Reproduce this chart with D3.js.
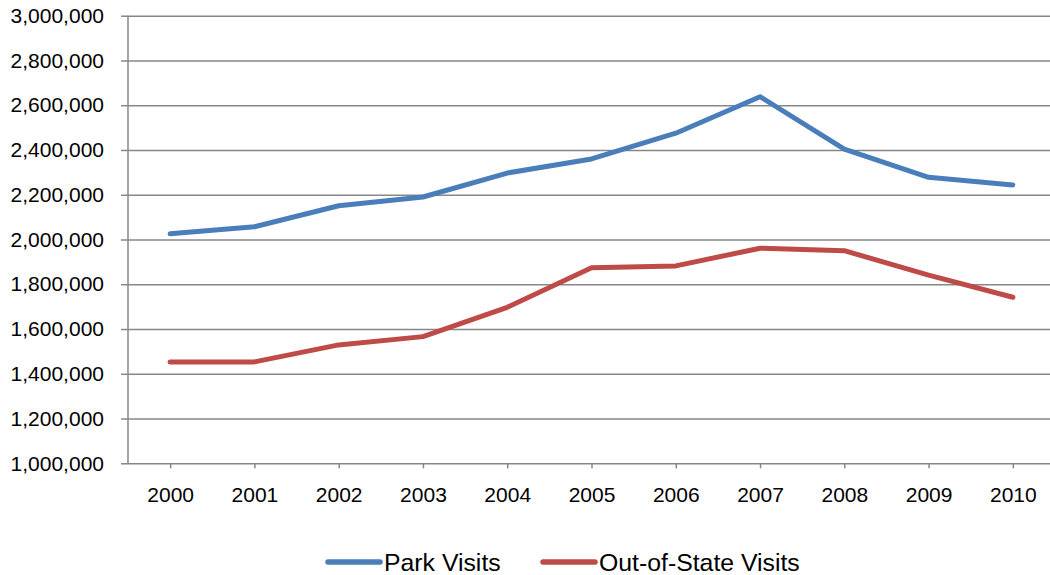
<!DOCTYPE html>
<html>
<head>
<meta charset="utf-8">
<script src="https://cdn.jsdelivr.net/npm/d3@7"></script>
<style>
  html, body { margin: 0; padding: 0; background: #fff; }
  svg { display: block; font-family: "Liberation Sans", Arial, sans-serif; }
</style>
</head>
<body>
<svg id="chart" width="1050" height="575"></svg>
<script>
// Visits per year, 2000–2010
const years = ["2000","2001","2002","2003","2004","2005","2006","2007","2008","2009","2010"];
const parkVisits = [2026000, 2057000, 2151000, 2190000, 2297000, 2360000, 2475000, 2638000, 2404000, 2278000, 2244000];
const outOfStateVisits = [1453000, 1453000, 1529000, 1566000, 1697000, 1874000, 1882000, 1961000, 1950000, 1841000, 1742000];
const yTicks = [1000000, 1200000, 1400000, 1600000, 1800000, 2000000, 2200000, 2400000, 2600000, 2800000, 3000000];
const seriesNames = ["Park Visits", "Out-of-State Visits"];
const seriesColors = ["#4A7EBB", "#BE4B48"];

const svg = d3.select("#chart");
const plot = { left: 128, right: 1055, top: 15.7, bottom: 463.3 };

const x = d3.scalePoint().domain(years).range([plot.left, plot.right]).padding(0.5);
const y = d3.scaleLinear().domain([1000000, 3000000]).range([plot.bottom, plot.top]);
const fmt = d3.format(",");
const gridColor = "#878787";

// Horizontal gridlines with outward tick stubs
const yAxis = svg.append("g")
  .attr("transform", `translate(${plot.left},0)`)
  .call(d3.axisLeft(y).tickValues(yTicks).tickFormat(fmt).tickSize(7).tickPadding(17));
yAxis.select(".domain").remove();
yAxis.selectAll(".tick line").attr("stroke", gridColor).attr("stroke-width", 1.5);
yAxis.selectAll(".tick text")
  .attr("fill", "#000").style("font-size", "21px");
yAxis.selectAll(".tick").append("line")
  .attr("x1", 0).attr("x2", plot.right - plot.left)
  .attr("stroke", gridColor).attr("stroke-width", 1.5);

// Vertical axis line
svg.append("line")
  .attr("x1", plot.left).attr("x2", plot.left).attr("y1", plot.top).attr("y2", plot.bottom)
  .attr("stroke", gridColor).attr("stroke-width", 1.5);

// Category axis
const xAxis = svg.append("g")
  .attr("transform", `translate(0,${plot.bottom})`)
  .call(d3.axisBottom(x).tickSize(5).tickPadding(19));
xAxis.select(".domain").remove();
xAxis.selectAll(".tick line").attr("stroke", gridColor).attr("stroke-width", 1.5);
xAxis.selectAll(".tick text").attr("fill", "#000").style("font-size", "21px");

// Series lines
const line = d3.line().x((d, i) => x(years[i])).y(d => y(d));
[parkVisits, outOfStateVisits].forEach((vals, k) => {
  svg.append("path")
    .datum(vals)
    .attr("d", line)
    .attr("fill", "none")
    .attr("stroke", seriesColors[k])
    .attr("stroke-width", 5)
    .attr("stroke-linejoin", "round")
    .attr("stroke-linecap", "round");
});

// Legend
const legendX = [328, 543];
seriesNames.forEach((name, k) => {
  const g = svg.append("g").attr("transform", `translate(${legendX[k]},562)`);
  g.append("line").attr("x1", 0).attr("x2", 52).attr("y1", 0).attr("y2", 0)
    .attr("stroke", seriesColors[k]).attr("stroke-width", 5.5).attr("stroke-linecap", "round");
  g.append("text").attr("x", 56).attr("y", 0).attr("dy", "0.35em")
    .style("font-size", "24.8px").attr("fill", "#000").text(name);
});
</script>
</body>
</html>
